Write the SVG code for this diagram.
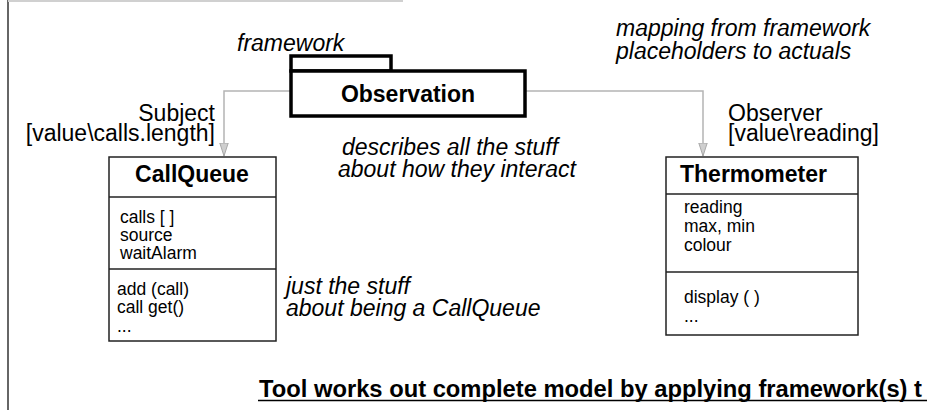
<svg xmlns="http://www.w3.org/2000/svg" width="927" height="412" viewBox="0 0 927 412">
<style>
.lbl{font-family:"Liberation Sans",Arial,sans-serif;font-size:23px;fill:#000}
.it{font-family:"Liberation Sans",Arial,sans-serif;font-size:23px;font-style:italic;fill:#000}
.ttl{font-family:"Liberation Sans",Arial,sans-serif;font-size:23px;font-weight:bold;fill:#000}
.cmp{font-family:"Liberation Sans",Arial,sans-serif;font-size:17.5px;fill:#000}
.box{fill:#fff;stroke:#222;stroke-width:1.5}
.pkg{fill:#fff;stroke:#000;stroke-width:3.5}
.conn{fill:none;stroke:#b4b4b4;stroke-width:1.5}
</style>
<defs>
<marker id="arr" viewBox="0 0 14 10" refX="13" refY="5" markerWidth="14" markerHeight="10" markerUnits="userSpaceOnUse" orient="auto">
<path d="M0,0.8 L13,5 L0,9.2 Z" fill="#cfcfcf" stroke="#a8a8a8" stroke-width="1"/>
</marker>
</defs>
<rect width="927" height="412" fill="#fff"/>
<g id="frame">
<line x1="8" y1="0" x2="8" y2="410" stroke="#666" stroke-width="2"/>
<line x1="8" y1="1" x2="403" y2="1" stroke="#d0d0d0" stroke-width="2"/>
</g>
<g id="connectors">
<path class="conn" d="M291,91 H224 V156" marker-end="url(#arr)"/>
<path class="conn" d="M525,91 H703 V156" marker-end="url(#arr)"/>
</g>
<g id="observation">
<rect class="pkg" x="291" y="56" width="100" height="15"/>
<rect class="pkg" x="291" y="71" width="234" height="45"/>
<text class="ttl" x="408" y="102" text-anchor="middle" font-size="22">Observation</text>
</g>
<g id="callqueue">
<rect class="box" x="109" y="157" width="167" height="184"/>
<line class="box" x1="109" y1="197" x2="276" y2="197"/>
<line class="box" x1="109" y1="269" x2="276" y2="269"/>
<text class="ttl" x="192" y="182" text-anchor="middle">CallQueue</text>
<text class="cmp" x="120" y="223">calls [ ]</text>
<text class="cmp" x="120" y="241">source</text>
<text class="cmp" x="120" y="259">waitAlarm</text>
<text class="cmp" x="117" y="295">add (call)</text>
<text class="cmp" x="117" y="313">call get()</text>
<text class="cmp" x="117" y="332">...</text>
</g>
<g id="thermometer">
<rect class="box" x="666" y="157" width="192" height="178"/>
<line class="box" x1="666" y1="194" x2="858" y2="194"/>
<line class="box" x1="666" y1="272" x2="858" y2="272"/>
<text class="ttl" x="680" y="182">Thermometer</text>
<text class="cmp" x="684" y="213">reading</text>
<text class="cmp" x="684" y="232">max, min</text>
<text class="cmp" x="684" y="251">colour</text>
<text class="cmp" x="684" y="303">display ( )</text>
<text class="cmp" x="684" y="322">...</text>
</g>
<g id="labels">
<text class="it" x="237" y="51" font-size="23.5">framework</text>
<text class="it" x="616" y="36">mapping from framework</text>
<text class="it" x="616" y="59">placeholders to actuals</text>
<text class="lbl" x="215" y="121" text-anchor="end">Subject</text>
<text class="lbl" x="215" y="141" text-anchor="end">[value\calls.length]</text>
<text class="lbl" x="728" y="121">Observer</text>
<text class="lbl" x="728" y="141">[value\reading]</text>
<text class="it" x="342" y="155">describes all the stuff</text>
<text class="it" x="338" y="177">about how they interact</text>
<text class="it" x="286" y="294">just the stuff</text>
<text class="it" x="286" y="316">about being a CallQueue</text>
<text class="ttl" x="259" y="397" textLength="663" lengthAdjust="spacingAndGlyphs">Tool works out complete model by applying framework(s) t</text>
<line x1="258" y1="400.5" x2="927" y2="400.5" stroke="#000" stroke-width="1.5"/>
</g>
</svg>
